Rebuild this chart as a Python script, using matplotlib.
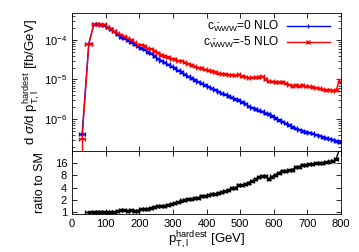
import matplotlib
matplotlib.use('Agg')
import matplotlib.pyplot as plt
from matplotlib.lines import Line2D
from matplotlib.ticker import LogLocator, LogFormatterMathtext, FixedLocator, NullFormatter, MultipleLocator
import numpy as np

plt.rcParams['font.family'] = ['Liberation Sans', 'DejaVu Sans']
plt.rcParams['mathtext.fontset'] = 'custom'
plt.rcParams['mathtext.rm'] = 'Liberation Sans'
plt.rcParams['mathtext.it'] = 'Liberation Sans:italic'
plt.rcParams['mathtext.sf'] = 'Liberation Sans'

# bin centres (GeV) and half widths
pt = [30, 50, 65, 75, 85, 95, 105, 115, 125, 135, 145, 155, 165, 175, 185, 195,
      205, 215, 225, 235, 245, 255, 265, 275, 285, 295, 305, 315, 325, 335, 345,
      355, 365, 375, 385, 395, 405, 415, 425, 435, 445, 455, 465, 475, 485, 495,
      505, 515, 525, 535, 545, 555, 565, 575, 585, 595, 605, 615, 625, 635, 645,
      655, 665, 675, 685, 695, 705, 715, 725, 735, 745, 755, 765, 775, 785, 795]
half_w = [10, 10] + [5] * 74

# c_WWW = 0 NLO (SM)
sm = [4.2e-7, 8.1e-5, 2.50e-4, 2.50e-4, 2.45e-4, 2.40e-4, 2.10e-4, 1.90e-4, 1.65e-4,
      1.40e-4, 1.20e-4, 1.12e-4, 1.00e-4, 9.0e-5, 8.0e-5, 7.0e-5, 6.3e-5, 5.8e-5,
      5.0e-5, 4.6e-5, 3.9e-5, 3.4e-5, 3.0e-5, 2.7e-5, 2.4e-5, 2.15e-5, 1.95e-5,
      1.7e-5, 1.55e-5, 1.35e-5, 1.2e-5, 1.1e-5, 9.8e-6, 8.8e-6, 8.0e-6, 7.2e-6,
      6.6e-6, 6.0e-6, 5.5e-6, 4.9e-6, 4.5e-6, 4.2e-6, 3.8e-6, 3.5e-6, 3.2e-6,
      3.0e-6, 2.7e-6, 2.45e-6, 2.1e-6, 1.95e-6, 1.8e-6, 1.65e-6, 1.55e-6, 1.4e-6,
      1.35e-6, 1.2e-6, 1.05e-6, 9.4e-7, 8.6e-7, 7.8e-7, 7.0e-7, 6.3e-7, 5.8e-7,
      5.4e-7, 5.0e-7, 4.7e-7, 4.5e-7, 4.3e-7, 4.0e-7, 3.8e-7, 3.5e-7, 3.3e-7,
      3.2e-7, 3.0e-7, 2.8e-7, 2.6e-7]

# c_WWW = -5 NLO
bsm = [3.2e-7, 8.1e-5, 2.50e-4, 2.55e-4, 2.45e-4, 2.47e-4, 2.10e-4, 1.94e-4, 1.65e-4,
       1.47e-4, 1.34e-4, 1.25e-4, 1.10e-4, 1.01e-4, 8.8e-5, 7.6e-5, 7.6e-5, 7.0e-5,
       6.1e-5, 6.0e-5, 5.3e-5, 4.8e-5, 4.2e-5, 3.9e-5, 3.7e-5, 3.4e-5, 3.3e-5,
       3.0e-5, 3.0e-5, 2.7e-5, 2.5e-5, 2.35e-5, 2.15e-5, 2.0e-5, 1.96e-5, 1.8e-5,
       1.72e-5, 1.65e-5, 1.54e-5, 1.42e-5, 1.4e-5, 1.39e-5, 1.33e-5, 1.33e-5, 1.28e-5,
       1.35e-5, 1.24e-5, 1.18e-5, 1.11e-5, 1.13e-5, 1.13e-5, 1.16e-5, 1.21e-5, 1.04e-5,
       8.9e-6, 8.9e-6, 8.6e-6, 8.7e-6, 8.6e-6, 8.0e-6, 7.4e-6, 6.9e-6, 7.25e-6,
       6.9e-6, 7.25e-6, 6.7e-6, 6.75e-6, 6.4e-6, 6.2e-6, 6.0e-6, 5.6e-6, 5.45e-6,
       5.5e-6, 5.25e-6, 5.45e-6, 8.8e-6]

rel_err = 0.04

pt = np.array(pt)
half_w = np.array(half_w)
sm = np.array(sm)
bsm = np.array(bsm)

sm_err = rel_err * sm
bsm_err_lo = rel_err * bsm
bsm_err_hi = rel_err * bsm
bsm_err_lo[0] = 0.999 * bsm[0]   # first bin error bar runs off the bottom
bsm_err_hi[-1] = 0.15 * bsm[-1]

ratio = bsm[1:] / sm[1:]
ratio_err = ratio * rel_err * 1.4

fig = plt.figure(figsize=(3.59, 2.52), dpi=100)
ax1 = fig.add_axes([0.2006, 0.401, 0.7494, 0.547])
ax2 = fig.add_axes([0.2006, 0.151, 0.7494, 0.250])

ax1.errorbar(pt, sm, xerr=half_w, yerr=sm_err, fmt='-', color='#0000ff', lw=1.0,
             elinewidth=1.0, capsize=1.2)
ax1.errorbar(pt, bsm, xerr=half_w, yerr=[bsm_err_lo, bsm_err_hi], fmt='-', color='#ff0000',
             lw=1.0, elinewidth=1.0, capsize=1.2)

ax1.set_yscale('log')
ax1.set_xlim(0, 800)
ax1.set_ylim(1.55e-7, 4.8e-4)
ax1.yaxis.set_major_locator(LogLocator(base=10))
ax1.yaxis.set_major_formatter(LogFormatterMathtext())
ax1.yaxis.set_minor_locator(LogLocator(base=10, subs=np.arange(2, 10)))
ax1.yaxis.set_minor_formatter(NullFormatter())
ax1.xaxis.set_major_locator(MultipleLocator(100))
ax1.set_xticklabels([])
ax1.tick_params(which='both', direction='in', top=True, right=True, labelsize=8)
ax1.tick_params(which='major', length=3.5, width=0.6)
ax1.tick_params(which='minor', length=2, width=0.5)
ax1.set_ylabel(r'd $\sigma$/d p$_{\mathrm{T,l}}^{\mathrm{hardest}}$ [fb/GeV]', fontsize=9.5, labelpad=1)

handles = [
    Line2D([], [], color='#0000ff', lw=1.0, marker='|', markersize=3, markevery=[0, 2]),
    Line2D([], [], color='#ff0000', lw=1.0, marker='x', markersize=3, markevery=[1]),
]
labels = [r'c$_{\tilde{\mathrm{W}}\mathrm{WW}}$=0 NLO', r'c$_{\tilde{\mathrm{W}}\mathrm{WW}}$=-5 NLO']
for h in handles:
    h.set_data([0, 0.5, 1], [0, 0, 0])
leg = ax1.legend(handles, labels, loc='upper right', fontsize=8.6, frameon=False, markerfirst=False,
                 handlelength=3.6, borderaxespad=0.1, labelspacing=0.05, handletextpad=0.6,
                 bbox_to_anchor=(0.98, 1.0))

ax2.errorbar(pt[1:], ratio, xerr=half_w[1:], yerr=ratio_err, fmt='-', color='black',
             lw=1.0, elinewidth=1.0, capsize=1.2)
ax2.set_yscale('log', base=2)
ax2.set_xlim(0, 800)
ax2.set_ylim(0.91, 31)
ax2.yaxis.set_major_locator(FixedLocator([1, 2, 4, 8, 16]))
ax2.set_yticklabels(['1', '2', '4', '8', '16'])
ax2.yaxis.set_minor_locator(FixedLocator([]))
ax2.xaxis.set_major_locator(MultipleLocator(100))
ax2.tick_params(which='both', direction='in', top=True, right=True, labelsize=8)
ax2.tick_params(which='major', length=3.5, width=0.6)
ax2.set_ylabel('ratio to SM', fontsize=9, labelpad=6)
ax2.set_xlabel(r'p$_{\mathrm{T,l}}^{\mathrm{hardest}}$ [GeV]', fontsize=9.5, labelpad=1)

for ax in (ax1, ax2):
    for s in ax.spines.values():
        s.set_linewidth(0.6)

fig.align_ylabels([ax1, ax2])
fig.savefig('out.png', dpi=100)
